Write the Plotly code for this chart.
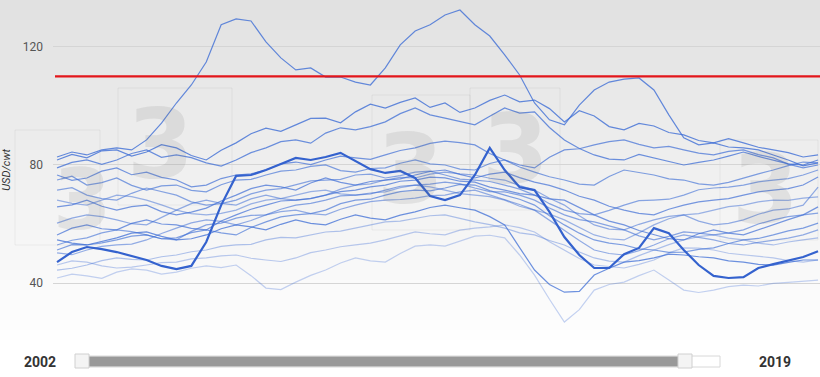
import plotly.graph_objects as go

# ---------------- data (USD/cwt, weekly price by year) ----------------
WEEKS = list(range(1, 53))

# highest year (double peak)
PRICE_HIGH = [82.7, 84.4, 83.4, 85.1, 85.8, 85.1, 88.5, 94.2, 101.0, 107.1, 114.9, 127.5, 129.5,
              128.8, 121.7, 116.3, 112.2, 112.9, 109.8, 109.8, 108.1, 107.1, 112.9, 120.7, 125.4,
              127.5, 130.8, 132.5, 127.5, 123.7, 117.3, 110.5, 101.0, 95.3, 93.6, 100.3, 105.4,
              108.1, 109.1, 109.5, 105.4, 97.0, 89.2, 86.8, 87.5, 86.1, 85.8, 85.1, 83.4, 81.7,
              79.7, 80.7]
# highlighted (thick) year
PRICE_SELECTED = [47.1, 50.5, 52.2, 51.5, 50.5, 49.1, 47.8, 45.8, 44.7, 45.8, 53.9, 66.4, 76.3,
                  76.6, 78.3, 80.3, 82.4, 81.7, 82.7, 84.1, 81.4, 78.6, 77.3, 78.0, 75.6, 69.5,
                  68.1, 69.8, 76.6, 85.8, 78.3, 72.5, 71.5, 64.1, 55.6, 49.5, 45.1, 45.1, 49.8,
                  51.9, 58.6, 56.9, 51.2, 46.1, 42.4, 41.7, 42.0, 45.1, 46.4, 47.5, 48.8, 50.8]

SERIES_B = [81.7, 83.6, 82.4, 84.8, 85.1, 83.0, 84.4, 86.9, 85.8, 83.2, 81.7, 85.0, 87.5, 90.6,
            92.5, 91.4, 93.6, 95.8, 95.9, 94.3, 98.0, 100.6, 99.3, 101.2, 102.7, 99.5, 101.0,
            97.8, 99.3, 101.9, 103.7, 101.4, 102.0, 99.1, 94.6, 98.4, 96.6, 93.0, 91.9, 94.1,
            93.2, 91.0, 90.2, 88.3, 87.5, 88.9, 87.5, 86.0, 85.1, 84.2, 82.7, 83.4]
SERIES_C = [79.0, 80.9, 81.7, 80.2, 81.7, 83.9, 85.1, 82.6, 83.4, 82.5, 80.7, 79.6, 81.7, 84.2,
            85.8, 87.9, 88.5, 87.4, 90.8, 92.6, 91.9, 93.0, 94.6, 97.4, 99.3, 97.0, 95.9, 94.8,
            93.6, 96.5, 99.3, 97.6, 98.0, 92.7, 88.5, 85.6, 83.4, 82.0, 81.7, 83.6, 82.4, 81.1,
            80.0, 80.9, 81.7, 83.0, 84.4, 82.9, 81.7, 80.4, 80.0, 81.7]
SERIES_D = [76.6, 74.8, 75.6, 77.9, 79.0, 76.7, 77.6, 75.8, 74.9, 72.6, 73.2, 75.4, 76.6, 77.0,
            78.3, 80.4, 81.0, 80.1, 81.7, 83.0, 82.4, 81.9, 83.4, 84.9, 85.8, 87.3, 88.1, 87.6,
            86.8, 83.9, 81.7, 80.0, 79.0, 82.6, 85.1, 85.5, 86.8, 87.9, 88.5, 87.0, 85.8, 86.3,
            85.1, 84.0, 83.4, 84.6, 85.1, 83.5, 82.4, 80.3, 79.0, 80.0]
SERIES_E = [74.9, 76.2, 73.2, 74.0, 75.6, 73.1, 71.5, 72.9, 73.2, 71.4, 70.9, 73.3, 74.9, 75.1,
            76.6, 77.9, 78.3, 79.5, 80.0, 78.1, 77.6, 78.8, 79.0, 80.6, 81.7, 80.4, 80.0, 78.6,
            78.3, 80.5, 81.7, 79.3, 77.6, 76.0, 74.9, 73.5, 73.2, 76.1, 78.3, 77.5, 76.6, 75.3,
            74.9, 73.6, 73.2, 74.1, 75.6, 77.0, 78.3, 79.8, 81.0, 80.7]
SERIES_F = [71.5, 72.3, 69.8, 68.6, 68.1, 70.4, 72.2, 71.0, 69.8, 67.5, 66.4, 66.9, 68.1, 70.2,
            71.5, 72.0, 73.2, 74.6, 74.9, 75.1, 76.6, 76.9, 75.6, 76.4, 77.6, 77.9, 76.6, 75.2,
            74.9, 74.4, 73.2, 71.8, 69.8, 66.9, 64.7, 63.5, 63.1, 64.6, 66.4, 67.9, 68.1, 68.4,
            69.8, 71.6, 72.2, 72.5, 73.2, 74.3, 74.9, 75.4, 76.6, 78.3]
SERIES_G = [65.8, 66.5, 68.1, 66.0, 64.7, 65.9, 66.4, 64.2, 63.1, 64.0, 65.4, 67.8, 69.8, 72.0,
            73.2, 72.6, 71.5, 73.9, 75.6, 74.1, 73.2, 74.4, 74.9, 75.3, 76.6, 77.8, 78.3, 76.8,
            75.6, 76.9, 77.6, 75.7, 74.2, 73.1, 71.5, 69.4, 68.1, 66.0, 64.7, 63.6, 63.1, 65.0,
            66.4, 67.5, 68.1, 68.6, 69.8, 70.9, 71.5, 72.0, 73.2, 75.9]
SERIES_I = [60.3, 62.0, 63.1, 62.5, 61.4, 60.1, 59.7, 62.3, 64.7, 66.9, 68.1, 67.0, 66.4, 68.5,
            69.8, 68.6, 68.1, 68.7, 69.8, 71.8, 73.2, 73.6, 74.9, 75.8, 75.6, 76.9, 77.6, 77.0,
            76.6, 75.5, 74.9, 73.0, 71.5, 68.7, 66.4, 62.8, 59.7, 58.3, 58.0, 59.9, 61.4, 62.6,
            63.1, 61.0, 59.7, 60.2, 61.4, 63.3, 64.7, 65.1, 66.4, 72.5]
SERIES_J = [56.3, 58.6, 59.7, 58.4, 58.0, 60.2, 61.4, 60.0, 59.7, 58.5, 58.0, 61.0, 63.1, 65.0,
            66.4, 67.8, 68.1, 68.6, 69.8, 71.0, 71.5, 72.6, 73.2, 74.5, 74.9, 75.9, 75.6, 74.5,
            74.2, 72.5, 71.5, 70.3, 69.8, 68.5, 68.1, 65.5, 63.1, 61.0, 59.7, 57.8, 56.3, 55.0,
            54.6, 56.7, 58.0, 56.9, 56.3, 58.1, 59.7, 61.5, 63.1, 65.8]
SERIES_K = [52.9, 54.5, 55.3, 57.0, 58.0, 57.4, 56.3, 55.0, 54.6, 57.5, 59.7, 60.3, 62.0, 62.9,
            63.1, 65.0, 66.4, 67.0, 68.1, 69.5, 69.8, 70.2, 71.5, 72.8, 73.2, 73.5, 74.2, 73.6,
            72.2, 71.0, 70.9, 69.8, 68.1, 65.4, 63.1, 61.5, 60.7, 59.4, 58.0, 56.0, 54.6, 55.8,
            57.3, 56.9, 56.3, 57.0, 58.0, 60.0, 61.4, 62.5, 63.1, 63.7]
SERIES_L = [51.2, 53.0, 52.9, 53.6, 54.6, 55.9, 56.3, 55.0, 55.3, 57.1, 58.0, 57.0, 56.3, 58.8,
            60.7, 62.4, 63.1, 63.5, 64.7, 66.9, 68.1, 68.4, 69.8, 71.0, 71.5, 71.2, 72.2, 73.4,
            73.2, 71.3, 69.8, 68.4, 66.4, 62.8, 59.7, 56.9, 54.6, 53.5, 52.9, 51.6, 51.2, 50.4,
            50.5, 51.4, 51.9, 53.4, 54.6, 55.1, 56.3, 57.7, 58.6, 60.3]
SERIES_M = [50.2, 49.6, 51.2, 52.4, 52.9, 53.2, 54.6, 56.8, 58.6, 60.4, 61.4, 60.9, 59.7, 61.2,
            63.1, 64.2, 64.7, 63.5, 63.1, 65.0, 66.4, 67.6, 68.1, 68.3, 68.8, 69.6, 69.8, 70.9,
            71.5, 69.9, 68.1, 66.6, 64.7, 61.2, 58.0, 54.4, 51.2, 50.0, 49.5, 51.0, 52.9, 55.0,
            56.3, 55.5, 54.6, 53.4, 52.9, 53.8, 54.6, 55.2, 56.3, 58.0]
SERIES_N = [44.4, 45.0, 46.1, 47.6, 48.5, 48.0, 47.8, 48.9, 49.5, 50.6, 51.2, 52.4, 52.9, 53.1,
            54.6, 55.5, 55.3, 56.4, 57.3, 57.6, 58.6, 59.8, 60.7, 61.0, 62.0, 62.8, 63.1, 61.9,
            60.7, 59.8, 58.6, 57.0, 56.3, 54.4, 52.9, 50.5, 48.5, 47.4, 47.1, 49.3, 51.2, 53.0,
            54.6, 55.7, 56.3, 55.2, 54.6, 53.5, 52.9, 53.9, 54.6, 55.3]
SERIES_O = [46.1, 47.5, 47.1, 45.8, 45.1, 45.4, 46.1, 46.9, 47.1, 48.2, 48.5, 49.2, 49.5, 48.4,
            47.8, 47.3, 48.5, 50.3, 51.2, 52.3, 52.9, 53.5, 54.6, 56.0, 57.3, 56.7, 56.3, 57.9,
            58.6, 59.0, 59.7, 58.8, 57.3, 54.0, 51.2, 48.3, 46.1, 45.5, 45.1, 46.3, 47.8, 50.2,
            51.9, 51.8, 51.2, 50.1, 49.5, 48.9, 48.5, 47.6, 47.1, 47.8]
SERIES_P = [41.7, 43.0, 42.4, 41.6, 43.7, 44.8, 44.4, 43.0, 43.7, 45.0, 45.8, 45.2, 46.1, 42.5,
            38.3, 37.8, 40.3, 42.6, 44.4, 46.8, 48.5, 47.5, 47.1, 50.0, 52.5, 52.9, 52.5, 54.3,
            55.9, 56.2, 55.3, 49.5, 42.7, 34.5, 26.8, 31.0, 37.6, 39.5, 40.3, 42.5, 44.4, 41.0,
            37.6, 36.8, 37.6, 38.8, 39.3, 39.0, 39.9, 40.2, 40.7, 41.0]
SERIES_Q = [54.6, 53.5, 52.9, 54.0, 55.3, 56.9, 57.3, 55.8, 54.6, 55.0, 56.3, 58.4, 59.7, 59.0,
            58.0, 59.9, 61.4, 60.2, 59.7, 61.6, 63.1, 62.0, 61.4, 63.0, 64.1, 65.6, 66.4, 65.5,
            64.7, 62.5, 59.7, 52.0, 44.4, 39.5, 36.9, 37.2, 42.7, 45.0, 47.1, 47.6, 48.5, 49.8,
            49.5, 48.9, 48.5, 47.5, 47.1, 46.3, 46.1, 47.0, 47.8, 47.8]
SERIES_R = [68.1, 67.0, 66.4, 68.0, 69.8, 69.3, 68.1, 66.5, 64.7, 63.5, 63.1, 63.6, 64.7, 66.8,
            68.1, 68.6, 69.8, 71.0, 71.5, 70.2, 69.8, 70.5, 70.9, 72.3, 73.2, 72.6, 71.5, 70.3,
            69.8, 69.3, 68.1, 66.0, 64.7, 63.4, 61.4, 58.9, 56.3, 55.0, 54.6, 57.0, 59.7, 61.8,
            63.1, 63.5, 64.7, 65.9, 66.4, 67.5, 68.1, 68.0, 68.8, 69.2]

THRESHOLD = 110
Y_TICKS = [40, 80, 120]
YEAR_START = "2002"
YEAR_END = "2019"
WATERMARK = "3"

# ---------------- figure ----------------
W, H = 820, 377
ML, MR, MT, MB = 53, 0, 0, 37
PLOT_H = H - MT - MB


def py(px):  # pixel row -> paper y
    return (PLOT_H - px) / PLOT_H


def pxx(px):  # pixel column -> paper x
    return (px - ML) / (W - ML - MR)


BLUE = "62,110,214"
fig = go.Figure()

thin = [
    (SERIES_P, 0.30), (SERIES_O, 0.35), (SERIES_N, 0.40), (SERIES_Q, 0.75),
    (SERIES_M, 0.55), (SERIES_L, 0.65), (SERIES_K, 0.6), (SERIES_J, 0.7),
    (SERIES_I, 0.55), (SERIES_R, 0.5), (SERIES_G, 0.7), (SERIES_F, 0.6),
    (SERIES_E, 0.65), (SERIES_D, 0.7), (SERIES_C, 0.75), (SERIES_B, 0.8),
]
for vals, op in thin:
    assert len(vals) == len(WEEKS)
    fig.add_trace(go.Scatter(x=WEEKS, y=vals, mode="lines",
                             line=dict(color=f"rgba({BLUE},{op})", width=1.2),
                             hoverinfo="skip"))
fig.add_trace(go.Scatter(x=WEEKS, y=PRICE_HIGH, mode="lines",
                         line=dict(color=f"rgba({BLUE},0.8)", width=1.2), hoverinfo="skip"))
fig.add_trace(go.Scatter(x=WEEKS, y=PRICE_SELECTED, mode="lines",
                         line=dict(color="rgb(52,98,206)", width=2.2), hoverinfo="skip"))

shapes = []
# background gradient bands
NB = 35
for i in range(NB):
    g = int(round(225 + (255 - 225) * i / (NB - 1)))
    shapes.append(dict(type="rect", xref="paper", yref="paper",
                       x0=pxx(-2), x1=pxx(W + 2), y0=py((i + 1) * 10), y1=py(i * 10),
                       fillcolor=f"rgb({g},{g},{g})", line=dict(width=0), layer="below"))
# faint watermark tiles
for (x0, y0, x1, y1) in [(15, 130, 100, 245), (118, 88, 232, 205), (372, 95, 470, 230),
                         (470, 88, 560, 210), (720, 140, 818, 240)]:
    shapes.append(dict(type="rect", xref="paper", yref="paper",
                       x0=pxx(x0), x1=pxx(x1), y0=py(y1), y1=py(y0),
                       fillcolor="rgba(255,255,255,0)",
                       line=dict(color="rgba(0,0,0,0.05)", width=1), layer="below"))
# threshold line
shapes.append(dict(type="line", xref="paper", yref="y", x0=pxx(55), x1=1,
                   y0=THRESHOLD, y1=THRESHOLD, line=dict(color="#e3161b", width=2.2),
                   layer="above"))
# slider track
shapes.append(dict(type="rect", xref="paper", yref="paper", x0=pxx(86), x1=pxx(720),
                   y0=py(367), y1=py(356), fillcolor="#ffffff",
                   line=dict(color="#d8d8d8", width=1)))
shapes.append(dict(type="rect", xref="paper", yref="paper", x0=pxx(86), x1=pxx(684),
                   y0=py(366.5), y1=py(356.5), fillcolor="#999999", line=dict(width=0)))
for hx in (75, 678):
    shapes.append(dict(type="rect", xref="paper", yref="paper", x0=pxx(hx), x1=pxx(hx + 14),
                       y0=py(368), y1=py(354), fillcolor="#f4f4f4",
                       line=dict(color="#d0d0d0", width=1)))

annotations = [
    dict(text=f"<b>{YEAR_START}</b>", xref="paper", yref="paper", x=pxx(40), y=py(362),
         showarrow=False, font=dict(family="Roboto", size=14, color="#333333"),
         xanchor="center", yanchor="middle"),
    dict(text=f"<b>{YEAR_END}</b>", xref="paper", yref="paper", x=pxx(775), y=py(362),
         showarrow=False, font=dict(family="Roboto", size=14, color="#333333"),
         xanchor="center", yanchor="middle"),
]
for (cx, cy, fs) in [(82, 200, 84), (160, 145, 96), (410, 170, 96), (515, 150, 96),
                     (765, 190, 96)]:
    annotations.append(dict(text=f"<b>{WATERMARK}</b>", xref="paper", yref="paper",
                            x=pxx(cx), y=py(cy), showarrow=False,
                            font=dict(family="DejaVu Sans", size=fs,
                                      color="rgba(110,110,110,0.13)"),
                            xanchor="center", yanchor="middle"))

fig.update_layout(
    width=W, height=H,
    margin=dict(l=ML, r=MR, t=MT, b=MB),
    paper_bgcolor="#ffffff", plot_bgcolor="rgba(0,0,0,0)",
    showlegend=False,
    shapes=shapes, annotations=annotations,
    xaxis=dict(range=[0.73, 52.13], showgrid=False, zeroline=False, showticklabels=False,
               ticks="", showline=False),
    yaxis=dict(range=[20.7, 135.9], tickvals=Y_TICKS, ticktext=[str(v) for v in Y_TICKS],
               showgrid=True, gridcolor="#d5d5d5", gridwidth=1, zeroline=False,
               tickfont=dict(family="Roboto", size=12, color="#555555"), ticks="",
               ticklabelstandoff=9,
               title=dict(text="<i>USD/cwt</i>",
                          font=dict(family="Roboto", size=11, color="#333333"),
                          standoff=14)),
    font=dict(family="Roboto"),
)

fig.write_html("out.html")
